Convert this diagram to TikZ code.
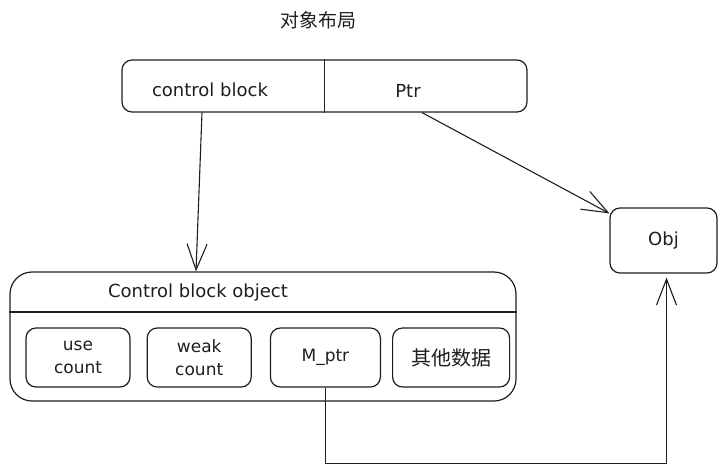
\documentclass[tikz,border=0pt]{standalone}
\usepackage{fontspec}
\setmainfont{DejaVu Sans}
\newfontfamily\cjk{Noto Sans CJK SC}
\usetikzlibrary{arrows.meta, positioning}
\definecolor{ink}{HTML}{1E1E1E}
\tikzstyle{box} = [rectangle, draw=ink, line width=1.2pt, rounded corners=10pt, text=ink]
\tikzstyle{field} = [box, minimum height=59pt, align=center, font=\fontsize{17}{23}\selectfont]
\tikzstyle{label} = [text=ink, font=\fontsize{18}{21}\selectfont]
\tikzstyle{cable} = [line width=1.1pt, draw=ink, -{Straight Barb[length=26pt, width=20pt]}]

\begin{document}
\begin{tikzpicture}[x=1pt, y=-1pt]
  \useasboundingbox (0,0) rectangle (726,475);
  \node (title) [text=ink, font=\cjk\fontsize{19}{22}\selectfont] at (318,20) {对象布局};
  \node (layout) [box, minimum width=405, minimum height=52] at (324.5,86) {};
  \draw [ink, line width=1.2pt] (layout.north) -- (layout.south);
  \node (cb) [label] at (210,90) {control block};
  \node (ptr) [label] at (408,91) {Ptr};
  \node (obj) [box, label, minimum width=107, minimum height=65] at (663.5,240.5) {Obj};
  \node (cbo) [box, rounded corners=22pt, minimum width=506, minimum height=129] at (263,336.5) {};
  \coordinate (split) at (0,312);
  \draw [ink, line width=1.2pt] (cbo.west |- split) -- (cbo.east |- split);
  \node (cbotitle) [label] at (198,293) {Control block object};
  \node (use) [field, minimum width=104] at (78,357.5) {use\\count};
  \node (weak) [field, minimum width=104, right=16pt of use] {weak\\count};
  \node (mptr) [field, minimum width=110, right=18pt of weak] {M\_ptr};
  \node (other) [field, minimum width=117, right=11pt of mptr, font=\cjk\fontsize{20}{23}\selectfont] {其他数据};
  \draw [cable] (layout.south -| 202,0) -- (cbo.north -| 196,0);
  \draw [cable] (layout.south -| 422,0) -- ([yshift=-6pt]obj.north west);
  \draw [cable, shorten >=4pt] (mptr.south) -- ++(0,76) -| ([xshift=3pt]obj.south);
\end{tikzpicture}
\end{document}
